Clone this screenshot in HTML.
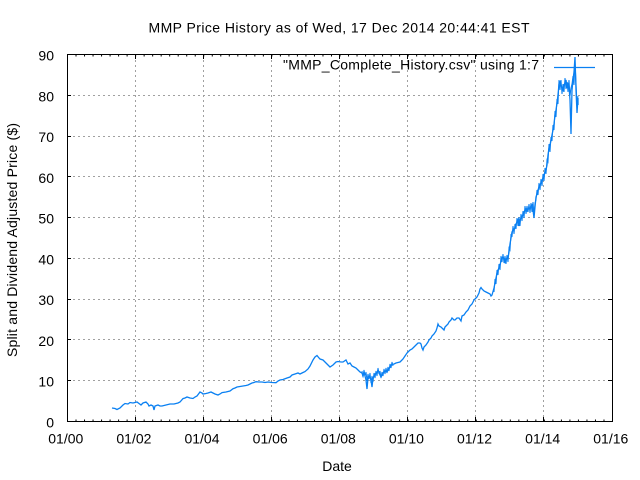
<!DOCTYPE html>
<html>
<head>
<meta charset="utf-8">
<style>
html,body{margin:0;padding:0;background:#fff;}
svg{display:block;}
text{font-family:"Liberation Sans",Arial,sans-serif;font-size:14px;fill:#000;}
</style>
</head>
<body>
<svg width="640" height="480" viewBox="0 0 640 480" xmlns="http://www.w3.org/2000/svg">
<rect x="0" y="0" width="640" height="480" fill="#fff"/>

<!-- grid -->
<g stroke="#a0a0a0" stroke-width="1" stroke-dasharray="2,3" fill="none">
<path d="M135.5 55V421 M203.5 55V421 M271.5 55V421 M339.5 55V421 M407.5 55V421 M475.5 55V421 M543.5 55V421"/>
<path d="M68 380.5H612 M68 339.5H612 M68 299.5H612 M68 258.5H612 M68 217.5H612 M68 176.5H612 M68 136.5H612 M68 95.5H612"/>
</g>

<!-- minor x ticks -->
<g stroke="#000" fill="none">
<line x1="67" y1="420.5" x2="613" y2="420.5" stroke-width="2" stroke-dasharray="1 7.515625"/>
<line x1="67" y1="55.5" x2="613" y2="55.5" stroke-width="2" stroke-dasharray="1 7.515625"/>
</g>

<!-- major ticks -->
<g stroke="#000" stroke-width="1" fill="none">
<path d="M135.5 417V421 M203.5 417V421 M271.5 417V421 M339.5 417V421 M407.5 417V421 M475.5 417V421 M543.5 417V421"/>
<path d="M135.5 55V59 M203.5 55V59 M271.5 55V59 M339.5 55V59 M407.5 55V59 M475.5 55V59 M543.5 55V59"/>
<path d="M67 380.5H71 M67 339.5H71 M67 299.5H71 M67 258.5H71 M67 217.5H71 M67 176.5H71 M67 136.5H71 M67 95.5H71"/>
<path d="M608 380.5H612 M608 339.5H612 M608 299.5H612 M608 258.5H612 M608 217.5H612 M608 176.5H612 M608 136.5H612 M608 95.5H612"/>
</g>

<!-- border -->
<rect x="67.5" y="54.5" width="545" height="367" fill="none" stroke="#000" stroke-width="1"/>

<!-- y tick labels -->
<g text-anchor="end">
<text x="54" y="427.5">0</text>
<text x="54" y="386.7">10</text>
<text x="54" y="345.9">20</text>
<text x="54" y="305.2">30</text>
<text x="54" y="264.4">40</text>
<text x="54" y="223.6">50</text>
<text x="54" y="182.8">60</text>
<text x="54" y="142">70</text>
<text x="54" y="101.3">80</text>
<text x="54" y="60.5">90</text>
</g>

<!-- x tick labels -->
<g text-anchor="middle">
<text x="65.8" y="443.5">01/00</text>
<text x="133.9" y="443.5">01/02</text>
<text x="202" y="443.5">01/04</text>
<text x="270.2" y="443.5">01/06</text>
<text x="338.3" y="443.5">01/08</text>
<text x="406.4" y="443.5">01/10</text>
<text x="474.5" y="443.5">01/12</text>
<text x="542.7" y="443.5">01/14</text>
<text x="610.8" y="443.5">01/16</text>
</g>

<!-- titles -->
<text x="148.5" y="32.3" textLength="381">MMP Price History as of Wed, 17 Dec 2014 20:44:41 EST</text>
<text x="337" y="471" text-anchor="middle">Date</text>
<text transform="translate(17,240) rotate(-90)" text-anchor="middle" textLength="234">Split and Dividend Adjusted Price ($)</text>

<!-- legend -->
<text x="539" y="69.3" text-anchor="end" textLength="256">"MMP_Complete_History.csv" using 1:7</text>
<line x1="554" y1="67.5" x2="595" y2="67.5" stroke="#0a80f2" stroke-width="1.2"/>

<!-- data -->
<polyline fill="none" stroke="#0a80f2" stroke-width="1.3" stroke-linejoin="miter" points="
112,408 115,408.5 117,409.5 120,408 123,405 125,403.5 128,404 130,402.5 133,403 137,402 139,403.5 141,405 143,403 146,402 148,404 149,406 151,405 153,406 154,410 155,406 158,405 160,406 162,406 166,405 170,404 174,404 178,403 180,402 183,398.6 185,398 187,397 190,398 193,398.5 195,397 197,396 200,392 202,393 203,394 206,393.5 208,393 211,392 213,393 215,394 218,395 220,394 222,392.6 226,392 230,391 233,388.7 235,388 237,387 240,386.5 243,386 246,385.5 248,385 250,384 252,383 254,382.5 256,381.7 259,382 262,382 265,382.5 268,382 272,382.5 276,382.7 278,381 280,380 283,379.5 287,378 290,377 292,375 295,374 298,373 300,374 303,372.5 305,371.6 308,369 310,366 313,360 315,357 317,355.5 319,358 320,359 323,360 325,362 327,364 330,367 333,365 336,362 338,361.5 341,362 343,362 346,360 348,364 350,363 352,366 354,367 356,368 358,370 360,372 362,373 363,376 364,372 366,380 367,389 368,378 370,377 371,380 372,387 373,378 375,374 377,373 378,370 380,375 381,377 383,373 385,371 387,372 388,370 390,367 391,365 394,364 396,363 398,362.5 400,362 402,360 403,359 405,356 407,353 409,351 410,350 412,349 414,347 416,345 418,343 420,343 421,344 422,348 423,350 424,347 426,345 428,342 429,340 431,338 432,336 434,334 436,331 437,328 438,324 439,326 441,327 443,329 444,330 445,327 446,326 448,324 449,322 451,320 452,318 454,320 455,320 457,318 459,318 461,321 462,316 464,315 466,312 468,310 470,306 472,304 474,300 476,298 477,297 479,293 480,289 481,287.5 482,289 484,291 486,292 488,293 490,294 491,296 492,295 494,288 495,283 496,278 497,273 498,270 499,268 500,265 501,261 502,258 503,257 504,259 505,262 506,259 508,258 509,252 510,244 511,238 512,232 513,230 515,228 516,224 517,222 518,220 519,226 520,220 521,218 522,216 523,215 524,212 526,209 527,211 529,208 530,209 531,206 532,205 533,210 534,218 535,207 536,197 537,194 538,190 539,187 541,183 542,181 543,178 544,175 545,172 546,170 547,165 548,155 549,148 550,145 551,140 552,135 553,130 554,124 555,115 556,110 557,103 558,95 559,84 560,82 561,85 562,88 563,90 564,85 565,83 566,80 567,88 568,84 569,86 570,100 571,134 572,90 573,80 574,72 575,57 576,90 577,113 578,98 578,105"/>

<!-- noise overlays -->
<polyline fill="none" stroke="#0a80f2" stroke-width="1" points="
362,371 363,377 364,370 365,376 366,372 367,381 368,374 369,379 370,373 371,383 372,376 373,382 374,373 375,378 376,371 377,376 378,368 379,374 380,371 381,378 382,372 383,376 384,369 385,374 386,368 387,373 388,367 389,371 390,364 391,368 392,362 393,366"/>
<polyline fill="none" stroke="#0a80f2" stroke-width="1" points="
494,292 495,279 496,284 497,270 498,275 499,264 500,270 501,256 502,262 503,254 504,263 505,256 506,264 507,255 508,262 509,248 510,250 511,234 512,237 513,226 514,234 515,224 516,229 517,218 518,226 519,217 520,226 521,214 522,221 523,211 524,218 525,206 526,214 527,206 528,212 529,204 530,213 531,203 532,212 533,202 534,214 535,203 536,200 537,190 538,195 539,183 540,190 541,179 542,186 543,174 544,181 545,168 546,174 547,160 548,162 549,144 550,152 551,137 552,141 553,125 554,130 555,111 556,117 557,99 558,104 559,80 560,90 561,80 562,94 563,84 564,92 565,78 566,89 567,82 568,92 569,80 570,96 571,88 572,84 573,76 574,85 575,62 576,82 577,104 578,96"/>
</svg>
</body>
</html>
